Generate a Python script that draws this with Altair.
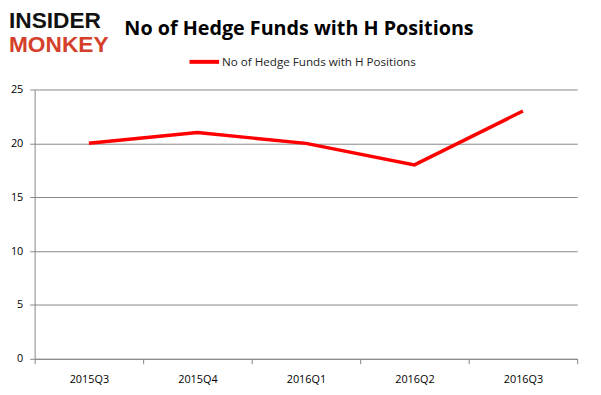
import altair as alt
import pandas as pd

quarters = ["2015Q3", "2015Q4", "2016Q1", "2016Q2", "2016Q3"]
funds = [20, 21, 20, 18, 23]
series_name = "No of Hedge Funds with H Positions"
y_ticks = [0, 5, 10, 15, 20, 25]

df = pd.DataFrame({"quarter": quarters, "funds": funds, "series": [series_name] * len(quarters)})

FONT = "Open Sans"
GRID = "#878787"

line = alt.Chart(df).mark_line(strokeWidth=3.5).encode(
    x=alt.X("quarter:O", sort=quarters, title=None,
            scale=alt.Scale(paddingInner=0, paddingOuter=0),
            axis=alt.Axis(labelAngle=0, tickBand="extent", domainColor=GRID, tickColor=GRID,
                          tickSize=5, labelFont=FONT, labelFontSize=11, labelColor="#000",
                          labelPadding=10, grid=False)),
    y=alt.Y("funds:Q", title=None,
            scale=alt.Scale(domain=[0, 25]),
            axis=alt.Axis(values=y_ticks, grid=True, gridColor=GRID, domainColor=GRID,
                          tickColor=GRID, tickSize=5, labelFont=FONT, labelFontSize=11,
                          labelColor="#000", labelPadding=7)),
    color=alt.Color("series:N", scale=alt.Scale(range=["#FF0000"]),
                    legend=alt.Legend(title=None, orient="none", legendX=155, legendY=-45,
                                      symbolType="stroke", symbolSize=900, symbolStrokeWidth=4,
                                      labelFont=FONT, labelFontSize=11.8, labelColor="#222",
                                      labelOffset=1, labelLimit=400)),
)

logo_df = pd.DataFrame({"t": ["INSIDER", "MONKEY"], "c": ["#111111", "#D4402B"], "yy": [-62, -38]})
logo = alt.Chart(logo_df).mark_text(font="Liberation Sans", fontWeight="bold", fontSize=23,
                                    align="left", baseline="alphabetic").encode(
    x=alt.value(-26),
    y=alt.Y("yy:Q", scale=None),
    text="t:N",
    color=alt.Color("c:N", scale=None),
)

title_df = pd.DataFrame({"t": [series_name]})
title = alt.Chart(title_df).mark_text(font=FONT, fontWeight="bold", fontSize=20, color="#000",
                                      align="center", baseline="alphabetic").encode(
    x=alt.value(268),
    y=alt.value(-55),
    text="t:N",
)

chart = alt.layer(line, logo, title).properties(
    width=550, height=273,
    autosize=alt.AutoSizeParams(type="none"),
    padding={"left": 27, "top": 80, "right": 16, "bottom": 26},
).configure_view(stroke=None)

chart.save("out.html", embed_options={"renderer": "svg", "actions": False})
